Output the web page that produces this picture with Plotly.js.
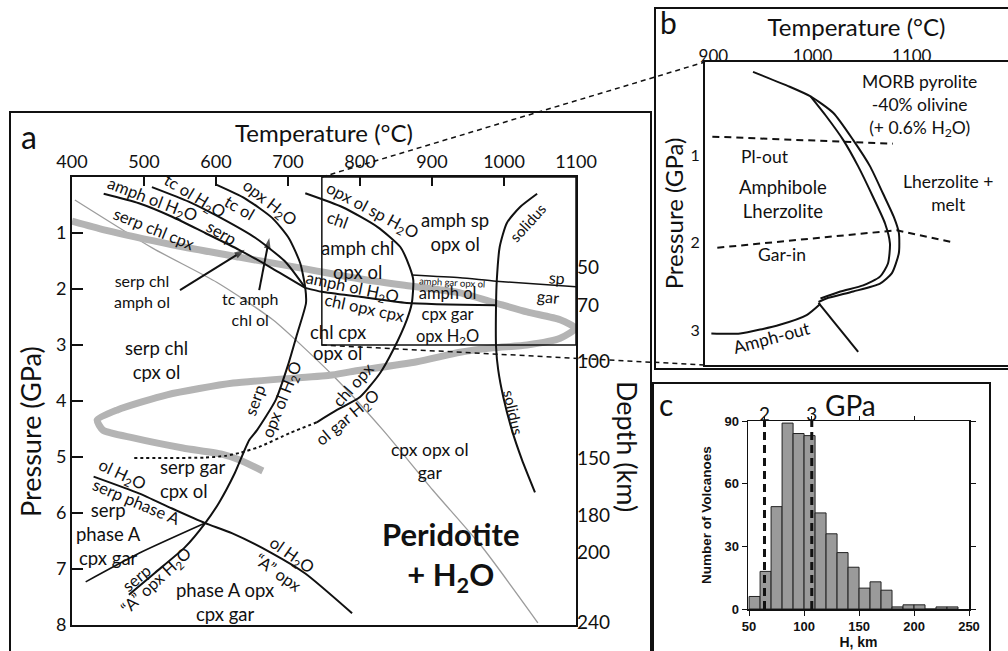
<!DOCTYPE html>
<html><head><meta charset="utf-8">
<script src="https://cdn.plot.ly/plotly-3.0.1.min.js"></script>
<style>html,body{margin:0;padding:0;background:#fff}#chart{width:1008px;height:651px}</style>
</head><body><div id="chart"></div>
<script>
// ---------- Panel a : Peridotite + H2O phase diagram ----------
const aTempTicks = [400,500,600,700,800,900,1000,1100];
const aPresTicks = [1,2,3,4,5,6,7,8];
const depthKm = [50,70,100,150,180,200,240];
const depthAtP = [1.61,2.29,3.30,5.02,6.04,6.70,7.96];

const slabT = [400,446,539,632,724,800,872,939,988,1032,1078,1099,1078,1032,985,939,879,786,758,624,532,463,435,443,485,554,608,632,665];
const slabP = [0.79,0.95,1.21,1.43,1.64,1.82,1.95,2.07,2.25,2.41,2.55,2.70,2.88,3.00,3.05,3.13,3.30,3.48,3.54,3.68,3.89,4.16,4.34,4.52,4.66,4.84,4.95,5.05,5.25];
const geoT = [404,512,601,679,762,832,901,971,1047];
const geoP = [0.41,1.27,1.88,2.55,3.54,4.52,5.59,6.63,7.96];

const amphOlT = [444,493,539,585,632,678,724];
const amphOlP = [0.30,0.47,0.71,1.00,1.30,1.63,1.98];
const tcOlT = [511,562,608,655,696,724];
const tcOlP = [0.18,0.44,0.74,1.09,1.51,1.98];
const serpOutT = [601,640,678,701,717,724,725,713,700,683,657,646,626,604,585,557,515,479];
const serpOutP = [0.14,0.38,0.73,1.09,1.54,1.98,2.25,2.79,3.36,3.98,4.52,4.70,5.29,5.82,6.18,6.61,7.07,7.46];
const chlOutT = [724,776,824,856,869,874,872,865,846,828,800,768,740];
const chlOutP = [0.29,0.54,0.89,1.25,1.61,1.84,2.25,2.55,3.09,3.50,3.93,4.16,4.38];
const chlDotT = [740,703,660,632,613,585,483];
const chlDotP = [4.38,4.57,4.82,4.93,4.98,5.01,5.02];
const amphOutAT = [724,747,800,865,989];
const amphOutAP = [1.98,2.05,2.14,2.25,2.29];
const spGarT = [872,939,989,1100];
const spGarP = [1.75,1.80,1.86,1.96];
const solidusT = [1046,1022,1004,994,990,989,989,992,999,1011,1025,1043];
const solidusP = [0.30,0.54,0.82,1.25,1.84,2.25,3.04,3.45,3.93,4.52,5.05,5.63];
const phaseAT = [430,493,539,585,622,678,724,789];
const phaseAP = [5.35,5.65,5.92,6.18,6.36,6.72,7.08,7.79];
const cpxGarT = [419,493,585];
const cpxGarP = [7.23,6.72,6.18];
const insetT = [747,1100];
const insetP = [0,3.0];
const arrow1T = [550,640], arrow1P = [2.02,1.30];
const arrow2T = [660,674], arrow2P = [2.02,1.09];

// ---------- Panel b : MORB pyrolite -40% olivine ----------
const bTempTicks = [900,1000,1100];
const bPresTicks = [1,2,3];
const bOuterT = [940,977,998,1021,1041,1058,1071,1082,1087,1087,1080,1068,1041,1014,1006];
const bOuterP = [0.05,0.22,0.33,0.52,0.83,1.13,1.44,1.71,1.89,2.12,2.35,2.47,2.56,2.64,2.68];
const bInnerT = [998,1014,1031,1046,1061,1073,1078,1076,1068,1051,1028,1008];
const bInnerP = [0.33,0.56,0.83,1.13,1.48,1.78,2.01,2.24,2.39,2.49,2.56,2.64];
const amphOutBT = [898,927,967,994,1008];
const amphOutBP = [3.04,3.04,2.94,2.83,2.70];
const tailBT = [1006,1046];
const tailBP = [2.69,3.25];
const plOutT = [899,1081];
const plOutP = [0.79,0.87];
const garInT = [904,1085,1142];
const garInP = [2.06,1.86,2.00];

// ---------- Panel c : histogram of H ----------
const hKm = [55,65,75,85,95,105,115,125,135,145,155,165,175,185,195,205,215,225,235];
const volcanoCounts = [6,18,49,89,84,83,46,36,27,20,10,13,9,1,2,2,0,1,1];
const hTicks = [50,100,150,200,250];
const countTicks = [0,30,60,90];
const gpaKm = [64,107];
const gpaLabels = ['2','3'];
const gpaMinorKm = [150,200];

// ---------- layout geometry ----------
const FONT = 'Lato, "Open Sans", sans-serif';
const HELV = '"Liberation Sans", Arial, sans-serif';
const INK = '#111';
const domAx = [72/1008, 576/1008], domAy = [1-625/651, 1-177/651];
const domBx = [705/1008, 1], domBy = [1-365/651, 1-62/651];
const domCx = [748/1008, 969/1008], domCy = [1-609/651, 1-421/651];
const rngAx = [400,1100], rngAy = [8,0];
const rngBx = [891.6,1197], rngBy = [3.4,-0.063];
const rngCx = [49,250], rngCy = [0,90];

function L(x,y,xa,ya,o){
  return {type:'scatter',mode:'lines',x:x,y:y,xaxis:xa,yaxis:ya,hoverinfo:'skip',
    line:Object.assign({color:INK,width:2,shape:'spline',smoothing:0.6},o||{})};
}
function arrowTrace(x,y){
  return {type:'scatter',mode:'lines+markers',x:x,y:y,xaxis:'x',yaxis:'y',hoverinfo:'skip',
    line:{color:INK,width:2},
    marker:{symbol:['circle','arrow'],size:[0,11],angleref:'previous',color:INK,line:{width:0}}};
}
const traces = [
  L(geoT,geoP,'x','y',{color:'#9c9c9c',width:1.3}),
  L(slabT,slabP,'x','y',{color:'#b4b4b4',width:7}),
  L(amphOlT,amphOlP,'x','y'),
  L(tcOlT,tcOlP,'x','y'),
  L(serpOutT,serpOutP,'x','y'),
  L(chlOutT,chlOutP,'x','y'),
  L(chlDotT,chlDotP,'x','y',{dash:'dot',width:2}),
  L(amphOutAT,amphOutAP,'x','y'),
  L(spGarT,spGarP,'x','y',{width:1.5}),
  L(solidusT,solidusP,'x','y'),
  L(phaseAT,phaseAP,'x','y'),
  L(cpxGarT,cpxGarP,'x','y',{width:1.6}),
  L([insetT[0],insetT[1],insetT[1],insetT[0],insetT[0]],[insetP[0],insetP[0],insetP[1],insetP[1],insetP[0]],'x','y',{width:1.5,shape:'linear'}),
  arrowTrace(arrow1T,arrow1P),
  arrowTrace(arrow2T,arrow2P),
  {type:'scatter',mode:'markers',x:[rngAx[0]],y:[rngAy[1]],xaxis:'x',yaxis:'y2',marker:{opacity:0},hoverinfo:'skip'},
  L(bOuterT,bOuterP,'x2','y3'),
  L(bInnerT,bInnerP,'x2','y3'),
  L(amphOutBT,amphOutBP,'x2','y3'),
  L(tailBT,tailBP,'x2','y3',{shape:'linear'}),
  L(plOutT,plOutP,'x2','y3',{dash:'7px,5px',shape:'linear'}),
  L(garInT,garInP,'x2','y3',{dash:'7px,5px',shape:'linear'}),
  {type:'bar',x:hKm,y:volcanoCounts,width:10,xaxis:'x3',yaxis:'y4',hoverinfo:'skip',
    marker:{color:'#9a9a9a',line:{color:'#222',width:1}}},
  L([gpaKm[0],gpaKm[0]],[0,90],'x3','y4',{dash:'8px,5px',width:3,shape:'linear'}),
  L([gpaKm[1],gpaKm[1]],[0,90],'x3','y4',{dash:'8px,5px',width:3,shape:'linear'}),
  {type:'scatter',mode:'markers',x:[100],y:[0],xaxis:'x4',yaxis:'y4',marker:{opacity:0},hoverinfo:'skip'}
];

function lab(t,x,y,ang,size,xa,ya,extra){
  return Object.assign({text:t,x:x,y:y,xref:xa||'x',yref:ya||'y',showarrow:false,textangle:ang,
    xanchor:'center',yanchor:'middle',font:{family:FONT,size:size,color:INK}},extra||{});
}
const R = 18.5, S = 16.5;
const aLabels = [
 ['amph ol H<sub>2</sub>O',511,0.41,21,S],
 ['tc ol H<sub>2</sub>O',571,0.34,31,S],
 ['tc ol',633,0.55,30,S],
 ['opx H<sub>2</sub>O',674,0.46,38,S],
 ['serp chl cpx',514,0.93,22,S],
 ['serp',608,1.0,30,S],
 ['serp chl<br>amph ol',497,2.04,0,16],
 ['tc amph<br>chl ol',647,2.36,0,16],
 ['serp chl<br>cpx ol',518,3.27,0,R],
 ['opx ol sp H<sub>2</sub>O',817,0.59,28,S],
 ['chl',769,0.77,20,S],
 ['amph chl<br>opx ol',796,1.48,0,R],
 ['amph ol H<sub>2</sub>O',789,1.98,12,S],
 ['chl opx cpx',807,2.34,12,S],
 ['amph gar opx ol',928,1.89,3,9.5],
 ['amph sp<br>opx ol',932,0.98,0,R],
 ['amph ol<br>cpx gar<br>opx H<sub>2</sub>O',922,2.46,0,16.5],
 ['solidus',1032,0.82,-48,15],
 ['sp',1074,1.79,5,16],
 ['gar',1061,2.14,5,16],
 ['chl cpx',769,2.77,0,R],
 ['opx ol',769,3.14,0,R],
 ['chl opx',790,3.71,-48,S],
 ['ol gar H<sub>2</sub>O',783,4.29,-40,S],
 ['serp',654,3.98,-70,S],
 ['opx ol H<sub>2</sub>O',692,3.98,-68,S],
 ['cpx opx ol<br>gar',897,5.07,0,17.5],
 ['solidus',1013,4.20,78,15],
 ['ol H<sub>2</sub>O',469,5.32,25,S],
 ['serp phase A',490,5.80,23,S],
 ['serp<br>phase A<br>cpx gar',450,6.38,0,R],
 ['serp',490,7.16,-40,S],
 ['\u201cA\u201d opx H<sub>2</sub>O',518,7.21,-43,S],
 ['phase A opx<br>cpx gar',612,7.59,0,R],
 ['ol H<sub>2</sub>O',706,6.75,35,S],
 ['\u201cA\u201d opx',687,7.07,35,S]
];
const bLabels = [
 ['MORB pyrolite<br>-40% olivine<br>(+ 0.6% H<sub>2</sub>O)',1108,0.43,0,17.5],
 ['Pl-out',952,1.02,0,17.5],
 ['Amphibole<br>Lherzolite',970,1.50,0,18.5],
 ['Lherzolite +<br>melt',1137,1.43,0,17.5],
 ['Gar-in',969,2.14,0,17.5],
 ['Amph-out',959,3.08,-15,17.5]
];
const annotations = [];
aLabels.forEach(l=>annotations.push(lab(l[0],l[1],l[2],l[3],l[4],'x','y')));
bLabels.forEach(l=>annotations.push(lab(l[0],l[1],l[2],l[3],l[4],'x2','y3')));
annotations.push(lab('serp gar<br>cpx ol',520,5.39,0,R,'x','y',{xanchor:'left',align:'left'}));
annotations.push(lab('<b>Peridotite<br>+ H<sub>2</sub>O</b>',925,6.77,0,31,'x','y'));
// titles & panel letters
annotations.push(lab('Pressure (GPa)',30/1008,1-432/651,-90,27,'paper','paper'));
annotations.push(lab('Depth (km)',628/1008,1-446/651,90,27,'paper','paper'));
annotations.push(lab('GPa',850/1008,1-405/651,0,28,'paper','paper'));
annotations.push(lab('a',29/1008,1-136/651,0,32,'paper','paper'));
annotations.push(lab('b',668/1008,1-22/651,0,30,'paper','paper'));
annotations.push(lab('c',666/1008,1-404/651,0,30,'paper','paper'));

function toPaper(v,r,d){return d[0]+(v-r[0])/(r[1]-r[0])*(d[1]-d[0]);}
const shapes = [
  {type:'rect',xref:'paper',yref:'paper',x0:10/1008,x1:651/1008,y0:-0.1,y1:1-112/651,line:{color:INK,width:2}},
  {type:'rect',xref:'paper',yref:'paper',x0:655/1008,x1:1.1,y0:1-369/651,y1:1-8/651,line:{color:INK,width:2}},
  {type:'rect',xref:'paper',yref:'paper',x0:653/1008,x1:990/1008,y0:-0.1,y1:1-383/651,line:{color:INK,width:2}},
  {type:'line',xref:'paper',yref:'paper',x0:toPaper(insetT[0],rngAx,domAx),y0:toPaper(insetP[0],rngAy,domAy),
     x1:domBx[0],y1:domBy[1],line:{color:INK,width:1.5,dash:'5px,4px'}},
  {type:'line',xref:'paper',yref:'paper',x0:toPaper(insetT[0],rngAx,domAx),y0:toPaper(insetP[1],rngAy,domAy),
     x1:domBx[0],y1:domBy[0],line:{color:INK,width:1.5,dash:'5px,4px'}}
];

const base = {showgrid:false,zeroline:false,linecolor:INK,tickcolor:INK};
const layout = {
  width:1008,height:651,margin:{l:0,r:0,t:0,b:0},paper_bgcolor:'#fff',plot_bgcolor:'rgba(0,0,0,0)',
  showlegend:false,hovermode:false,
  xaxis:Object.assign({},base,{domain:domAx,range:rngAx,anchor:'y',side:'top',showline:true,mirror:true,linewidth:2,
    ticks:'inside',ticklen:9,tickwidth:2,tickvals:aTempTicks,tickfont:{family:FONT,size:18,color:INK},
    title:{text:'Temperature (°C)',font:{family:FONT,size:24,color:INK},standoff:0}}),
  yaxis:Object.assign({},base,{domain:domAy,range:rngAy,anchor:'x',showline:true,mirror:true,linewidth:2,
    ticks:'inside',ticklen:11,tickwidth:2,tickvals:aPresTicks,tickfont:{family:FONT,size:18,color:INK}}),
  yaxis2:Object.assign({},base,{overlaying:'y',anchor:'x',side:'right',range:rngAy,showline:false,ticks:'',
    tickvals:depthAtP,ticktext:depthKm.map(String),tickfont:{family:FONT,size:19,color:INK}}),
  xaxis2:Object.assign({},base,{domain:domBx,range:rngBx,anchor:'y3',side:'top',showline:true,mirror:true,linewidth:2,
    ticks:'',tickvals:bTempTicks,ticklabelstandoff:-9,tickfont:{family:FONT,size:17,color:INK},
    title:{text:'Temperature (°C)',font:{family:FONT,size:24,color:INK},standoff:2}}),
  yaxis3:Object.assign({},base,{domain:domBy,range:rngBy,anchor:'x2',showline:true,mirror:true,linewidth:2,
    ticks:'',tickvals:bPresTicks,tickfont:{family:FONT,size:16,color:INK},
    title:{text:'Pressure (GPa)',font:{family:FONT,size:24,color:INK},standoff:0}}),
  xaxis3:Object.assign({},base,{domain:domCx,range:rngCx,anchor:'y4',showline:true,mirror:true,linewidth:1.5,
    ticks:'outside',ticklen:5,tickvals:hTicks,tickfont:{family:HELV,size:13,color:INK,weight:'bold'},
    title:{text:'H, km',font:{family:HELV,size:14,color:INK,weight:'bold'},standoff:0}}),
  yaxis4:Object.assign({},base,{domain:domCy,range:rngCy,anchor:'x3',showline:true,mirror:'ticks',linewidth:1.5,
    ticks:'outside',ticklen:5,tickvals:countTicks,tickfont:{family:HELV,size:13,color:INK,weight:'bold'},
    title:{text:'Number of Volcanoes',font:{family:HELV,size:13.5,color:INK,weight:'bold'},standoff:9}}),
  xaxis4:Object.assign({},base,{overlaying:'x3',anchor:'y4',side:'top',range:rngCx,showline:false,
    ticks:'outside',ticklen:4,tickvals:gpaKm,ticktext:gpaLabels,ticklabelstandoff:-13,
    tickfont:{family:FONT,size:19,color:INK},
    minor:{tickvals:gpaMinorKm,ticks:'outside',ticklen:4,tickcolor:INK}}),
  annotations:annotations,
  shapes:shapes
};
Plotly.newPlot('chart',traces,layout,{staticPlot:true,displayModeBar:false});
</script></body></html>
